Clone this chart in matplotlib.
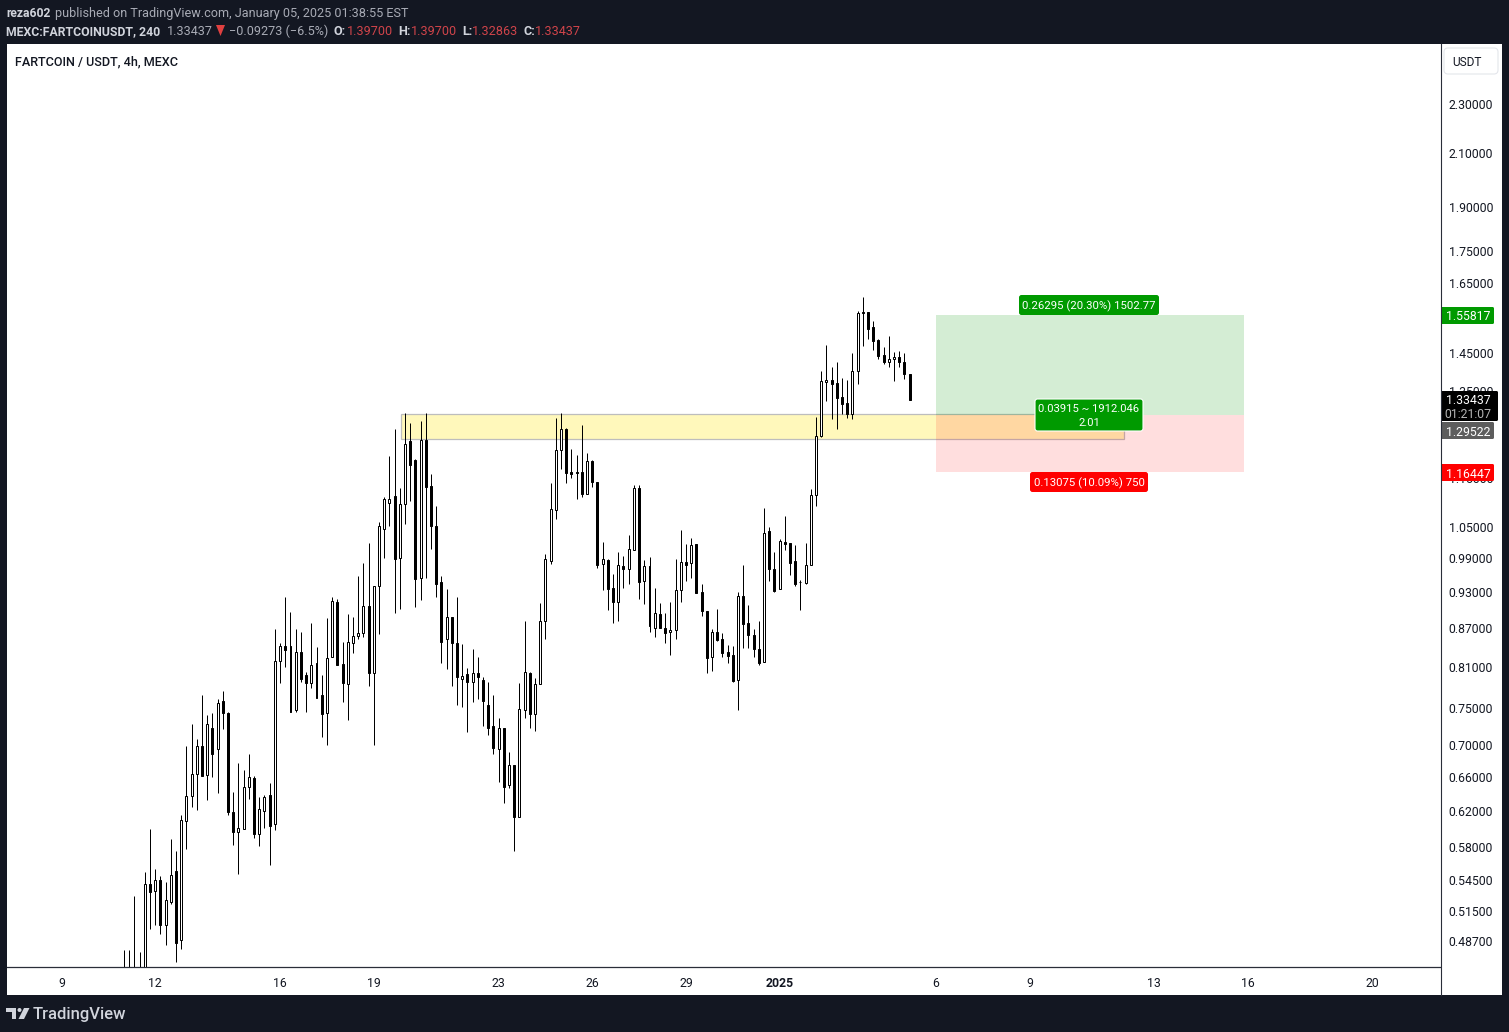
import matplotlib
matplotlib.use('Agg')
import matplotlib.pyplot as plt
from matplotlib.patches import Rectangle, FancyBboxPatch, Polygon, Circle

O = [0.453,0.453,0.453,0.453,0.453,0.541,0.534,0.545,0.502,0.524,0.555,0.488,0.608,0.637,0.664,0.699,0.662,0.723,0.695,0.760,0.743,0.619,0.596,0.599,0.648,0.659,0.594,0.620,0.638,0.605,0.818,0.841,0.841,0.747,0.832,0.797,0.786,0.815,0.768,0.743,0.825,0.914,0.814,0.785,0.847,0.857,0.862,0.906,0.800,0.940,1.045,1.097,1.111,0.990,1.095,1.230,1.188,0.954,1.233,1.132,1.051,0.947,0.852,0.888,0.846,0.791,0.799,0.788,0.800,0.790,0.755,0.725,0.695,0.723,0.650,0.675,0.613,0.747,0.800,0.742,0.784,0.881,0.986,1.083,1.210,1.258,1.162,1.162,1.162,1.115,1.186,1.140,0.979,0.987,0.937,0.914,0.976,0.970,1.005,1.128,0.949,0.976,0.871,0.893,0.871,0.863,0.867,0.933,0.983,0.981,1.017,0.930,0.898,0.824,0.863,0.852,0.832,0.827,0.790,0.923,0.878,0.859,0.837,0.817,1.041,0.970,0.935,1.020,1.019,0.985,0.948,0.946,0.978,1.113,1.243,1.372,1.379,1.370,1.335,1.320,1.293,1.401,1.563,1.563,1.520,1.484,1.443,1.424,1.432,1.438,1.425,1.394]
H = [0.479,0.479,0.529,0.477,0.553,0.599,0.557,0.549,0.543,0.588,0.575,0.615,0.699,0.728,0.708,0.769,0.740,0.743,0.763,0.774,0.744,0.642,0.678,0.669,0.689,0.661,0.636,0.638,0.653,0.869,0.847,0.922,0.897,0.869,0.863,0.802,0.878,0.840,0.798,0.886,0.922,0.918,0.848,0.893,0.888,0.958,0.982,1.019,0.940,1.059,1.109,1.197,1.259,1.128,1.296,1.272,1.190,1.277,1.296,1.158,1.091,0.958,0.936,0.888,0.922,0.845,0.808,0.837,0.825,0.795,0.787,0.769,0.737,0.723,0.691,0.675,0.786,0.882,0.802,0.793,0.912,0.998,1.139,1.285,1.296,1.260,1.212,1.200,1.268,1.204,1.188,1.140,1.021,0.989,0.962,1.001,0.995,1.034,1.135,1.135,0.987,0.992,0.937,0.912,0.894,0.913,0.989,1.044,1.017,1.028,1.017,0.944,0.898,0.869,0.902,0.862,0.843,0.842,0.930,0.978,0.908,0.869,0.882,1.087,1.050,1.002,1.026,1.071,1.019,1.015,0.951,1.019,1.126,1.287,1.402,1.471,1.412,1.425,1.383,1.379,1.449,1.566,1.608,1.564,1.538,1.487,1.466,1.496,1.452,1.455,1.449,1.394]
L = [0.447,0.447,0.447,0.447,0.445,0.498,0.502,0.493,0.483,0.522,0.468,0.480,0.578,0.624,0.621,0.662,0.632,0.660,0.641,0.722,0.615,0.582,0.551,0.599,0.634,0.590,0.581,0.601,0.561,0.598,0.786,0.810,0.744,0.745,0.788,0.744,0.778,0.765,0.711,0.700,0.824,0.813,0.758,0.734,0.831,0.853,0.856,0.782,0.701,0.861,0.990,1.052,0.894,0.902,1.056,1.102,0.905,0.917,0.954,1.008,0.922,0.816,0.806,0.781,0.754,0.752,0.718,0.759,0.763,0.725,0.713,0.689,0.654,0.629,0.647,0.576,0.613,0.736,0.723,0.719,0.784,0.852,0.979,1.066,1.169,1.138,1.150,1.106,1.110,1.115,1.131,0.973,0.934,0.899,0.879,0.881,0.938,0.945,1.005,0.919,0.909,0.864,0.856,0.871,0.847,0.828,0.852,0.914,0.950,0.955,0.928,0.890,0.801,0.803,0.849,0.825,0.816,0.788,0.748,0.839,0.839,0.825,0.813,0.817,0.950,0.931,0.935,1.005,0.960,0.941,0.900,0.945,0.978,1.092,1.241,1.326,1.283,1.259,1.293,1.285,1.281,1.369,1.467,1.488,1.456,1.434,1.421,1.413,1.377,1.413,1.380,1.327]
C = [.4587,.4587,.4587,.4587,.5413,.5337,.5450,.5020,.5252,.5501,.4855,.6092,.6369,.6634,.6988,.6618,.7279,.6894,.7568,.7438,.6190,.5965,.6002,.6476,.6597,.5943,.6217,.6357,.6032,.8181,.8412,.8350,.7452,.8319,.7923,.7864,.8121,.7648,.7424,.8227,.9145,.8131,.7864,.8475,.8570,.8618,.9060,.8011,.9403,1.051,1.105,1.105,.9898,1.095,1.224,1.178,.9537,1.233,1.131,1.051,.9449,.8485,.8877,.8470,.7942,.7957,.7879,.8001,.7952,.7606,.7234,.6971,.7225,.6484,.6746,.6133,.7484,.8016,.7424,.7840,.8811,.9885,1.085,1.210,1.258,1.161,1.157,1.159,1.115,1.186,1.140,.9788,.9885,.9362,.9139,.9776,.9716,1.007,1.128,.9484,.9758,.8741,.8943,.8709,.8618,.8666,.9333,.9831,.9788,1.015,.9287,.8988,.8237,.8634,.8517,.8314,.8268,.7888,.9230,.8773,.8586,.8376,.8161,1.037,.9704,.9327,1.022,1.016,.9825,.9449,.9473,.9776,1.113,1.242,1.375,1.378,1.367,1.332,1.319,1.293,1.401,1.560,1.561,1.516,1.483,1.440,1.424,1.433,1.438,1.424,1.395,1.328]
PRICE_TICKS = [2.3, 2.1, 1.9, 1.75, 1.65, 1.45, 1.35, 1.15, 1.05, 0.99, 0.93, 0.87, 0.81, 0.75, 0.70, 0.66, 0.62, 0.58, 0.545, 0.515, 0.487]
DATE_POS = [-12, 6, 30, 48, 72, 90, 108, 126, 156, 174, 198, 216, 240]
DATE_LAB = ['9', '12', '16', '19', '23', '26', '29', '2025', '6', '9', '13', '16', '20']
ZONE = (53.24, 192.2, 1.2358, 1.29522)
POS = (156.06, 215.26, 1.1613, 1.292, 1.5554)

W, Hh = 1509, 1032
DARK, LINE, INK = '#131722', '#2a2e39', '#131722'
plt.rcParams['font.family'] = ['Roboto', 'DejaVu Sans']
fig = plt.figure(figsize=(W/100, Hh/100), dpi=100, facecolor=DARK)

def px_axes(z):
    a = fig.add_axes([0, 0, 1, 1], zorder=z, facecolor='none')
    a.set_xlim(0, W); a.set_ylim(Hh, 0); a.axis('off')
    return a
bg = px_axes(0)
fg = px_axes(5)
bg.add_patch(Rectangle((7, 44), 1495, 951, fc='white', ec='none'))

ax = fig.add_axes([7/W, (Hh-967)/Hh, 1433/W, 923/Hh], zorder=1, facecolor='none')
ax.set_yscale('log')
ax.set_xlim((7-124.0)/5.203, (1440-124.0)/5.203)
ax.set_ylim(0.4641, 2.570)
for s in ('top', 'left', 'right'):
    ax.spines[s].set_visible(False)
ax.spines['bottom'].set_color(LINE); ax.spines['bottom'].set_linewidth(0.9)
ax.minorticks_off()
ax.yaxis.tick_right()
ax.set_yticks(PRICE_TICKS, ['%.5f' % v for v in PRICE_TICKS], fontsize=8.8, color=INK)
ax.set_xticks(DATE_POS, DATE_LAB, fontsize=8.8, color=INK)
for lab in ax.get_xticklabels():
    if lab.get_text() == '2025':
        lab.set_fontweight('bold')
ax.tick_params(axis='y', length=0, pad=6.2)
ax.tick_params(axis='x', length=0, pad=7)

# zone and position tool
ax.add_patch(Rectangle((ZONE[0], ZONE[2]), ZONE[1]-ZONE[0], ZONE[3]-ZONE[2], fc='#fff8bb', ec='#bdbdbd', lw=0.9, zorder=1))
ax.add_patch(Rectangle((POS[0], POS[3]), POS[1]-POS[0], POS[4]-POS[3], fc=(0, 150/255, 0, .17), ec='none', zorder=1.5))
ax.add_patch(Rectangle((POS[0], POS[2]), POS[1]-POS[0], POS[3]-POS[2], fc=(1, 0, 0, .13), ec='none', zorder=1.5))

# candles
xs = list(range(len(O)))
ax.vlines(xs, L, H, color='black', lw=0.72, zorder=2)
for i in xs:
    top, bot = max(O[i], C[i]), min(O[i], C[i])
    ax.bar(i, top-bot, bottom=bot, width=0.38, fc='white' if C[i] >= O[i] else 'black',
           ec='black', lw=0.72, zorder=3)

def tag(x0, y0, x1, y1, color, lines, cx=None, ec='none', fs=8.8, tcolors=None, r=2.5, gap=13):
    fg.add_patch(FancyBboxPatch((x0+r, y0+r), x1-x0-2*r, y1-y0-2*r, boxstyle='round,pad=%g,rounding_size=%g' % (r, r),
                                fc=color, ec=ec, lw=0.8))
    cx = (x0+x1)/2 if cx is None else cx
    n = len(lines)
    for k, t in enumerate(lines):
        y = (y0+y1)/2 + (k-(n-1)/2)*gap
        fg.text(cx, y, t, color=(tcolors[k] if tcolors else 'white'), fontsize=fs, ha='center', va='center_baseline')

GREEN, RED = '#009a00', '#ff0000'
tag(1019, 295, 1159, 315, GREEN, ['0.26295 (20.30%) 1502.77'], fs=8.2)
tag(1035, 399, 1143, 431, GREEN, ['0.03915 ~ 1912.046', '2.01'], ec='white', fs=8.1)
tag(1030, 472, 1148, 492, RED, ['0.13075 (10.09%) 750'], fs=8.2)
fg.plot([1440.5, 1440.5], [44, 995], color=LINE, lw=0.8)
tag(1441, 307, 1494, 324, GREEN, ['1.55817'], cx=1468, r=1.5)
tag(1441, 391, 1498, 421, 'black', ['1.33437', '01:21:07'], cx=1468, tcolors=['white', '#b5b5b5'], r=1.5)
tag(1441, 422, 1494, 439, '#5d5d5d', ['1.29522'], cx=1468, r=1.5)
tag(1441, 464, 1494, 481, RED, ['1.16447'], cx=1468, r=1.5)

# header and labels
fs = 9.1
GREY, LT, PR = '#a8abb5', '#d1d4dc', '#d0444a'
fg.text(6, 12, 'reza602', color=LT, fontsize=8.7, fontweight='bold', va='center_baseline')
fg.text(55, 12, 'published on TradingView.com, January 05, 2025 01:38:55 EST', color=GREY, fontsize=fs, va='center_baseline')
fg.text(6, 30, 'MEXC:FARTCOINUSDT, 240', color=LT, fontsize=8.85, fontweight='bold', va='center_baseline')
fg.text(167, 30, '1.33437', color=GREY, fontsize=fs, va='center_baseline')
fg.add_patch(Polygon([(216, 25), (225, 25), (220.5, 36)], fc='#e04040', ec='none'))
fg.text(229, 30, '\u22120.09273 (\u22126.5%)', color=GREY, fontsize=fs, va='center_baseline')
for x, t, c in [(333, 'O:', LT), (347, '1.39700', PR), (398, 'H:', LT), (411, '1.39700', PR),
                (462, 'L:', LT), (472, '1.32863', PR), (523, 'C:', LT), (535, '1.33437', PR)]:
    fg.text(x, 30, t, color=c, fontsize=fs, va='center_baseline', fontweight='bold' if c == LT else 'normal')
fg.text(15, 60, 'FARTCOIN / USDT, 4h, MEXC', color=INK, fontsize=9.05, fontweight=500, va='center_baseline')
tag(1444, 48, 1498, 74, 'white', ['USDT'], cx=1467, ec='#e4e6eb', tcolors=[INK], fs=8.6, r=4)

# footer logo
fg.text(33, 1013, 'TradingView', color=LT, fontsize=12.0, fontweight=500, va='center_baseline')
fg.add_patch(Polygon([(6, 1008), (16, 1008), (16, 1019), (11.5, 1019), (11.5, 1012), (6, 1012)], fc=LT, ec='none'))
fg.add_patch(Circle((19.5, 1010), 2, fc=LT, ec='none'))
fg.add_patch(Polygon([(24, 1008), (29.5, 1008), (24, 1019), (18.5, 1019)], fc=LT, ec='none'))

fig.savefig('out.png', dpi=100, facecolor=DARK)
